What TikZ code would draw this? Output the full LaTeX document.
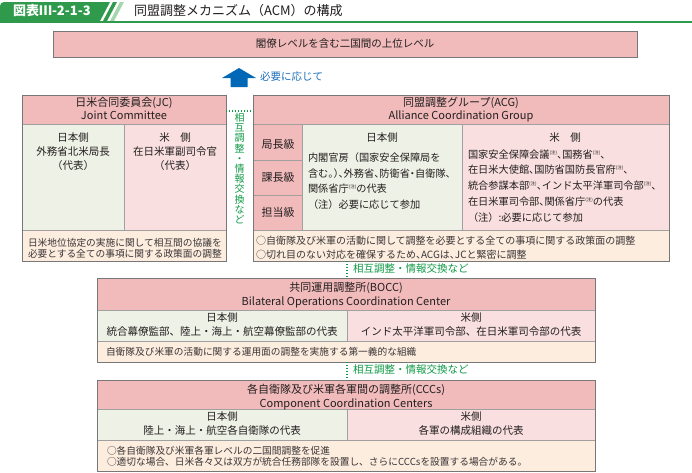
\documentclass[tikz,border=0pt]{standalone}
\usepackage{fontspec}
\setmainfont{Noto Sans CJK JP}
\usetikzlibrary{calc}
\definecolor{hdrpink}{HTML}{F2BBBB}
\definecolor{uspink}{HTML}{F9DFDF}
\definecolor{jpgreen}{HTML}{EEF1E5}
\definecolor{beige}{HTML}{FDEDDF}
\definecolor{bordergray}{HTML}{777777}
\definecolor{linegray}{HTML}{A0A0A0}
\definecolor{tabgreen}{HTML}{2F9A4C}
\definecolor{lightgreen}{HTML}{A6D6AE}
\definecolor{txtgreen}{HTML}{109A46}
\definecolor{arrowblue}{HTML}{0068B7}
\definecolor{txtblue}{HTML}{1C6FB8}
\definecolor{txt}{HTML}{231F20}
\definecolor{txtnote}{HTML}{3A3536}
\newcommand\punL[1]{\makebox[0.5em][l]{#1}}
\newcommand\punC[1]{\makebox[0.5em][c]{#1}}
\newcommand\chu{\raisebox{0.42em}{\fontsize{4.5}{4.5}\selectfont (注)}}
\tikzset{
  tline/.style={inner sep=0pt, outer sep=0pt, text height=0.88em, text depth=0.12em, text=txt},
  box/.style={draw=bordergray, line width=0.9pt, inner sep=0pt, outer sep=0pt, anchor=north west},
  divline/.style={draw=linegray, line width=0.6pt},
  gdot/.style={draw=txtgreen, line width=1.3pt, dash pattern=on 1.3pt off 1.7pt},
  hdr/.style={tline, font=\fontsize{11}{13}\selectfont},
  mid/.style={tline, font=\fontsize{10.5}{14}\selectfont},
  body/.style={tline, anchor=west, font=\fontsize{10.2}{15}\selectfont},
  note/.style={tline, anchor=west, text=txtnote, font=\fontsize{9.7}{11}\selectfont},
  noteb/.style={tline, anchor=west, text=txtnote, font=\fontsize{10}{11}\selectfont},
  lvl/.style={tline, font=\fontsize{11}{12}\selectfont},
  glabel/.style={tline, anchor=west, text=txtgreen, font=\fontsize{10.5}{12}\selectfont},
}
\begin{document}
\begin{tikzpicture}[x=1pt,y=-1pt]
\useasboundingbox (0,0) rectangle (692,472);
\fill[white] (0,0) rectangle (692,472);
% ---------- header ----------
\fill[tabgreen] (0,22) [rounded corners=4pt] -- (0,2) [sharp corners] -- (110,2) -- (99.5,22) -- cycle;
\fill[tabgreen] (113,2) -- (117,2) -- (106.5,22) -- (102.5,22) -- cycle;
\fill[lightgreen] (120,2) -- (124,2) -- (113.5,22) -- (109.5,22) -- cycle;
\draw[tabgreen, line width=1.6pt] (0,22) -- (692,22);
\node[tline, anchor=west, text=white, font=\fontsize{13}{14}\selectfont\bfseries] (tabtxt) at (13,12) {図表Ⅲ-2-1-3};
\node[tline, anchor=west, font=\fontsize{13}{14}\selectfont] (title) at (134,12) {同盟調整メカニズム（ACM）の構成};
% ---------- top box ----------
\fill[hdrpink] (53,31) rectangle (637,57);
\node[box, minimum width=584pt, minimum height=26pt] (top) at (53,31) {};
\node[mid] (toptxt) at (345,44) {閣僚レベルを含む二国間の上位レベル};
% ---------- arrow ----------
\coordinate (arrtip) at (239,68);
\fill[arrowblue] (230.5,87) -- (230.5,78) -- (222,78) -- (arrtip) -- (256,78) -- (247.5,78) -- (247.5,87) -- cycle;
\node[tline, anchor=west, text=txtblue, font=\fontsize{10.5}{12}\selectfont] (needlbl) at (260,77) {必要に応じて};
% ---------- JC ----------
\fill[hdrpink] (22,95) rectangle (226,124);
\fill[jpgreen] (22,124) rectangle (124,230);
\fill[uspink] (124,124) rectangle (226,230);
\fill[beige] (22,230) rectangle (226,261);
\draw[divline] (22,124) -- (226,124) (22,230) -- (226,230) (124,124) -- (124,230);
\node[box, minimum width=204pt, minimum height=166pt] (jc) at (22,95) {};
\node[hdr] (jct1) at (124,103) {日米合同委員会(JC)};
\node[hdr] (jct2) at (124,116) {Joint Committee};
\node[mid] (jcj1) at (73,138) {日本側};
\node[mid] (jcj2) at (73,152) {外務省北米局長};
\node[mid] (jcj3) at (73,166) {（代表）};
\node[mid] (jcu1) at (175,138) {米　側};
\node[mid] (jcu2) at (175,152) {在日米軍副司令官};
\node[mid] (jcu3) at (175,166) {（代表）};
\node[note] (jcn1) at (28,243) {日米地位協定の実施に関して相互間の協議を};
\node[note] (jcn2) at (28,254) {必要とする全ての事項に関する政策面の調整};
% ---------- ACG ----------
\fill[hdrpink] (253,95) rectangle (669,124);
\fill[hdrpink] (253,124) rectangle (302,230);
\fill[jpgreen] (302,124) rectangle (462,230);
\fill[uspink] (462,124) rectangle (669,230);
\fill[beige] (253,230) rectangle (669,261);
\draw[divline] (253,124) -- (669,124) (253,230) -- (669,230) (302,124) -- (302,230)
  (462,124) -- (462,230) (253,160) -- (302,160) (253,195) -- (302,195);
\node[box, minimum width=416pt, minimum height=166pt] (acg) at (253,95) {};
\node[hdr] (acgt1) at (461,103) {同盟調整グループ(ACG)};
\node[hdr] (acgt2) at (461,116) {Alliance Coordination Group};
\node[lvl] (lv1) at (278,145) {局長級};
\node[lvl] (lv2) at (278,178) {課長級};
\node[lvl] (lv3) at (278,213) {担当級};
\node[mid] (acgj0) at (382,138) {日本側};
\node[body] (acgj1) at (308,158) {内閣官房（国家安全保障局を};
\node[body] (acgj2) at (308,174) {含む\punL{。}\punL{）}\punL{、}外務省\punL{、}防衛省\punC{・}自衛隊\punL{、}};
\node[body] (acgj3) at (308,189) {関係省庁\chu の代表};
\node[body] (acgj4) at (308,205) {（注）必要に応じて参加};
\node[mid] (acgu0) at (565,138) {米　側};
\node[body] (acgu1) at (468,155) {国家安全保障会議\chu\punL{、}国務省\chu\punL{、}};
\node[body] (acgu2) at (468,170) {在日米大使館\punL{、}国防省国防長官府\chu\punL{、}};
\node[body] (acgu3) at (468,186) {統合参謀本部\chu\punL{、}インド太平洋軍司令部\chu\punL{、}};
\node[body] (acgu4) at (468,202) {在日米軍司令部\punL{、}関係省庁\chu の代表};
\node[body] (acgu5) at (468,218) {（注）:必要に応じて参加};
\node[noteb] (acgn1) at (256,241) {○自衛隊及び米軍の活動に関して調整を必要とする全ての事項に関する政策面の調整};
\node[noteb] (acgn2) at (256,255) {○切れ目のない対応を確保するため\punL{、}ACGは\punL{、}JCと緊密に調整};
% JC -- ACG connector
\coordinate (jcy) at (0,111);
\draw[gdot] (jc.east |- jcy) -- (acg.west |- jcy);
\node[tline, anchor=north, align=center, text=txtgreen, font=\fontsize{10}{10.2}\selectfont, text height=, text depth=] (vlbl) at (239.5,113) {相\\互\\調\\整\\・\\情\\報\\交\\換\\な\\ど};
% ---------- BOCC ----------
\fill[hdrpink] (97,278) rectangle (595,310);
\fill[jpgreen] (97,310) rectangle (347,341);
\fill[uspink] (347,310) rectangle (595,341);
\fill[beige] (97,341) rectangle (595,362);
\draw[divline] (97,310) -- (595,310) (97,341) -- (595,341) (347,310) -- (347,341);
\node[box, minimum width=498pt, minimum height=84pt] (bocc) at (97,278) {};
\node[hdr] (bt1) at (346,288) {共同運用調整所(BOCC)};
\node[hdr] (bt2) at (346,302) {Bilateral Operations Coordination Center};
\node[mid] (bj1) at (222,318) {日本側};
\node[mid] (bj2) at (222,332) {統合幕僚監部、陸上・海上・航空幕僚監部の代表};
\node[mid] (bu1) at (471,318) {米側};
\node[mid] (bu2) at (471,332) {インド太平洋軍司令部、在日米軍司令部の代表};
\node[note] (bn1) at (106,352) {自衛隊及び米軍の活動に関する運用面の調整を実施する第一義的な組織};
% ---------- CCCs ----------
\fill[hdrpink] (97,380) rectangle (595,409);
\fill[jpgreen] (97,409) rectangle (347,440);
\fill[uspink] (347,409) rectangle (595,440);
\fill[beige] (97,440) rectangle (595,471);
\draw[divline] (97,409) -- (595,409) (97,440) -- (595,440) (347,409) -- (347,440);
\node[box, minimum width=498pt, minimum height=91pt] (cccs) at (97,380) {};
\node[hdr] (ct1) at (346,390) {各自衛隊及び米軍各軍間の調整所(CCCs)};
\node[hdr] (ct2) at (346,404) {Component Coordination Centers};
\node[mid] (cj1) at (222,417) {日本側};
\node[mid] (cj2) at (222,431) {陸上・海上・航空各自衛隊の代表};
\node[mid] (cu1) at (471,417) {米側};
\node[mid] (cu2) at (471,431) {各軍の構成組織の代表};
\node[note] (cn1) at (107,451) {○各自衛隊及び米軍各軍レベルの二国間調整を促進};
\node[note] (cn2) at (107,462) {○適切な場合、日米各々又は双方が統合任務部隊を設置し、さらにCCCsを設置する場合がある。};
% ---------- vertical connectors ----------
\coordinate (dx) at (347,0);
\draw[gdot] (dx |- acg.south) -- (dx |- bocc.north);
\draw[gdot] (dx |- bocc.south) -- (dx |- cccs.north);
\node[glabel] (lbl2) at (353,269) {相互調整・情報交換など};
\node[glabel] (lbl3) at (353,370) {相互調整・情報交換など};
\end{tikzpicture}
\end{document}
